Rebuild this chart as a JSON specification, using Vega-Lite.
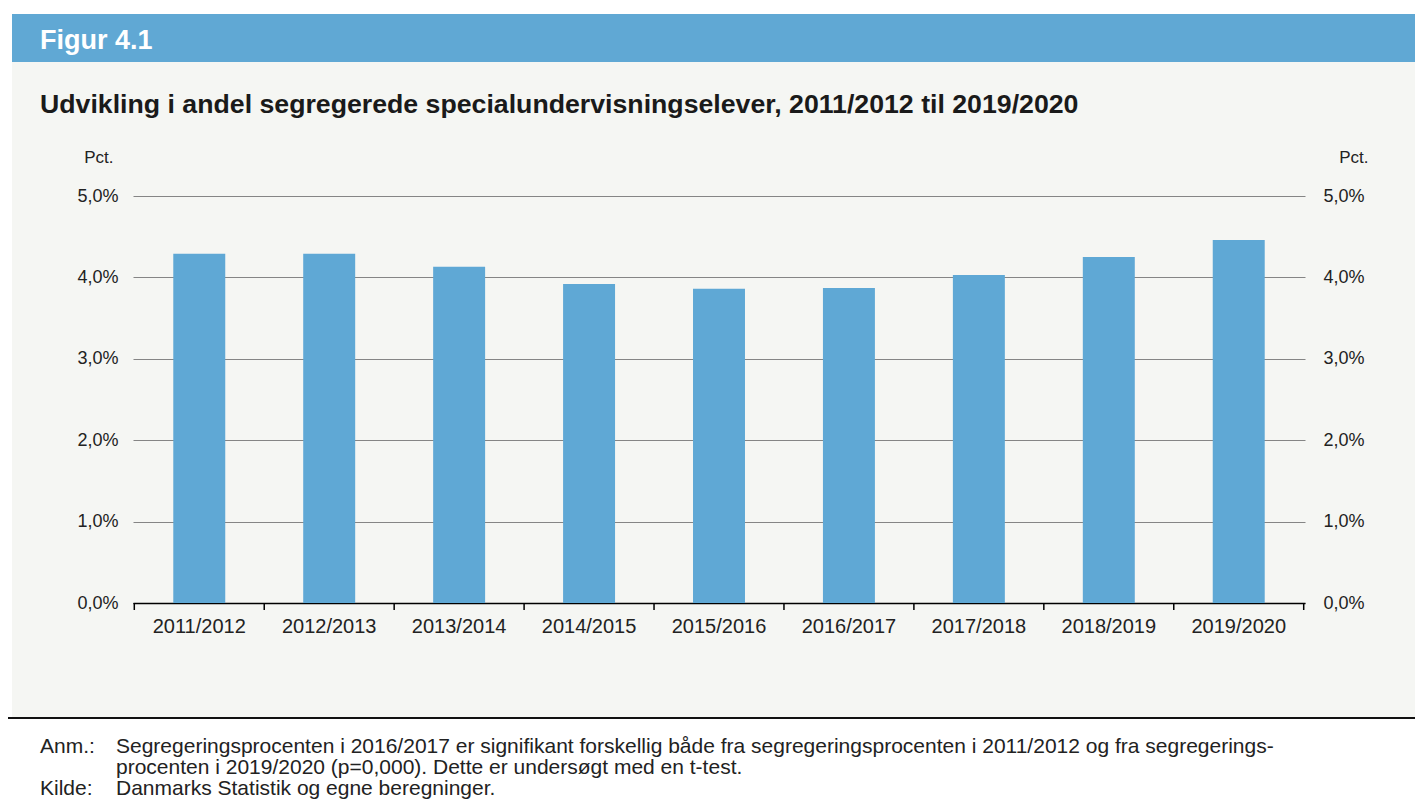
{
  "$schema": "https://vega.github.io/schema/vega-lite/v6.json",
  "width": 1172,
  "height": 407,
  "autosize": {"type": "none"},
  "padding": {"left": 133, "top": 196, "right": 110, "bottom": 208},
  "background": "#f5f6f3",
  "config": {"view": {"stroke": null}, "font": "Liberation Sans"},
  "data": {
    "values": [
      {"year": "2011/2012", "pct": 4.29},
      {"year": "2012/2013", "pct": 4.29},
      {"year": "2013/2014", "pct": 4.13},
      {"year": "2014/2015", "pct": 3.92},
      {"year": "2015/2016", "pct": 3.86},
      {"year": "2016/2017", "pct": 3.87},
      {"year": "2017/2018", "pct": 4.03},
      {"year": "2018/2019", "pct": 4.25},
      {"year": "2019/2020", "pct": 4.46}
    ]
  },
  "layer": [
    {
      "data": {"values": [{}]},
      "mark": {"type": "rect", "color": "#ffffff"},
      "encoding": {"x": {"value": -133}, "x2": {"value": 1282}, "y": {"value": -196}, "y2": {"value": -182}}
    },
    {
      "data": {"values": [{}]},
      "mark": {"type": "rect", "color": "#ffffff"},
      "encoding": {"x": {"value": -133}, "x2": {"value": -121}, "y": {"value": -196}, "y2": {"value": 522}}
    },
    {
      "data": {"values": [{}]},
      "mark": {"type": "rect", "color": "#ffffff"},
      "encoding": {"x": {"value": -133}, "x2": {"value": 1282}, "y": {"value": 522}, "y2": {"value": 615}}
    },
    {
      "data": {"values": [{}]},
      "mark": {"type": "rect", "color": "#60a8d4"},
      "encoding": {"x": {"value": -121}, "x2": {"value": 1282}, "y": {"value": -182}, "y2": {"value": -134}}
    },
    {
      "data": {"values": [{}]},
      "mark": {"type": "rule", "color": "#111111", "strokeWidth": 2},
      "encoding": {"x": {"value": -125}, "x2": {"value": 1282}, "y": {"value": 522}}
    },
    {
      "data": {"values": [{"t": "Figur 4.1"}]},
      "mark": {"type": "text", "align": "left", "baseline": "middle", "fontSize": 27, "fontWeight": "bold", "color": "#ffffff", "font": "Liberation Sans"},
      "encoding": {"text": {"field": "t"}, "x": {"value": -93}, "y": {"value": -155}}
    },
    {
      "data": {"values": [{"t": "Udvikling i andel segregerede specialundervisningselever, 2011/2012 til 2019/2020"}]},
      "mark": {"type": "text", "align": "left", "baseline": "middle", "fontSize": 26.7, "fontWeight": "bold", "color": "#1a1a1a", "font": "Liberation Sans"},
      "encoding": {"text": {"field": "t"}, "x": {"value": -93}, "y": {"value": -91}}
    },
    {
      "mark": {"type": "bar", "color": "#5fa8d5"},
      "encoding": {
        "x": {
          "field": "year",
          "type": "nominal",
          "sort": null,
          "scale": {"paddingInner": 0.6, "paddingOuter": 0.31},
          "axis": {
            "title": null,
            "ticks": false,
            "domainColor": "#000000",
            "domainWidth": 1.5,
            "labelFontSize": 20,
            "labelColor": "#222222",
            "labelPadding": 13,
            "labelAngle": 0
          }
        },
        "y": {
          "field": "pct",
          "type": "quantitative",
          "scale": {"domain": [0, 5], "nice": false},
          "axis": {
            "orient": "left",
            "values": [0, 1, 2, 3, 4, 5],
            "grid": true,
            "gridColor": "#858585",
            "gridWidth": 1,
            "domain": false,
            "ticks": false,
            "labelPadding": 15,
            "labelFontSize": 18,
            "labelColor": "#222222",
            "labelExpr": "replace(format(datum.value,'.1f'),'.',',')+'%'",
            "title": "Pct.",
            "titleAngle": 0,
            "titleAlign": "right",
            "titleBaseline": "middle",
            "titleX": -20,
            "titleY": -39,
            "titleFontSize": 17,
            "titleFontWeight": "normal",
            "titleColor": "#222222"
          }
        }
      }
    },
    {
      "mark": {"type": "bar", "color": "#5fa8d5", "opacity": 0},
      "encoding": {
        "x": {"field": "year", "type": "nominal", "sort": null},
        "y": {
          "field": "pct",
          "type": "quantitative",
          "axis": {
            "orient": "right",
            "values": [0, 1, 2, 3, 4, 5],
            "grid": false,
            "domain": false,
            "ticks": false,
            "labelPadding": 18,
            "labelFontSize": 18,
            "labelColor": "#222222",
            "labelExpr": "replace(format(datum.value,'.1f'),'.',',')+'%'",
            "title": "Pct.",
            "titleAngle": 0,
            "titleAlign": "right",
            "titleBaseline": "middle",
            "titleX": 63,
            "titleY": -39,
            "titleFontSize": 17,
            "titleFontWeight": "normal",
            "titleColor": "#222222"
          }
        }
      }
    },
    {
      "mark": {"type": "rule", "color": "#000000", "strokeWidth": 1.5},
      "encoding": {
        "x": {"field": "year", "type": "nominal", "sort": null, "bandPosition": -0.75},
        "y": {"value": 407},
        "y2": {"value": 414}
      }
    },
    {
      "transform": [{"filter": "datum.year == '2019/2020'"}],
      "mark": {"type": "rule", "color": "#000000", "strokeWidth": 1.5},
      "encoding": {
        "x": {"field": "year", "type": "nominal", "sort": null, "bandPosition": 1.75},
        "y": {"value": 407},
        "y2": {"value": 414}
      }
    },
    {
      "data": {"values": [{"t": "Anm.:"}]},
      "mark": {"type": "text", "align": "left", "baseline": "middle", "fontSize": 21, "color": "#222222", "font": "Liberation Sans"},
      "encoding": {"text": {"field": "t"}, "x": {"value": -93}, "y": {"value": 551}}
    },
    {
      "data": {"values": [{"t": "Kilde:"}]},
      "mark": {"type": "text", "align": "left", "baseline": "middle", "fontSize": 21, "color": "#222222", "font": "Liberation Sans"},
      "encoding": {"text": {"field": "t"}, "x": {"value": -93}, "y": {"value": 593}}
    },
    {
      "data": {"values": [{"t": ["Segregeringsprocenten i 2016/2017 er signifikant forskellig både fra segregeringsprocenten i 2011/2012 og fra segregerings-", "procenten i 2019/2020 (p=0,000). Dette er undersøgt med en t-test.", "Danmarks Statistik og egne beregninger."]}]},
      "mark": {"type": "text", "align": "left", "baseline": "top", "fontSize": 21, "lineHeight": 21, "color": "#222222", "font": "Liberation Sans"},
      "encoding": {"text": {"field": "t"}, "x": {"value": -17}, "y": {"value": 540}}
    }
  ],
  "resolve": {"axis": {"y": "independent"}}
}
